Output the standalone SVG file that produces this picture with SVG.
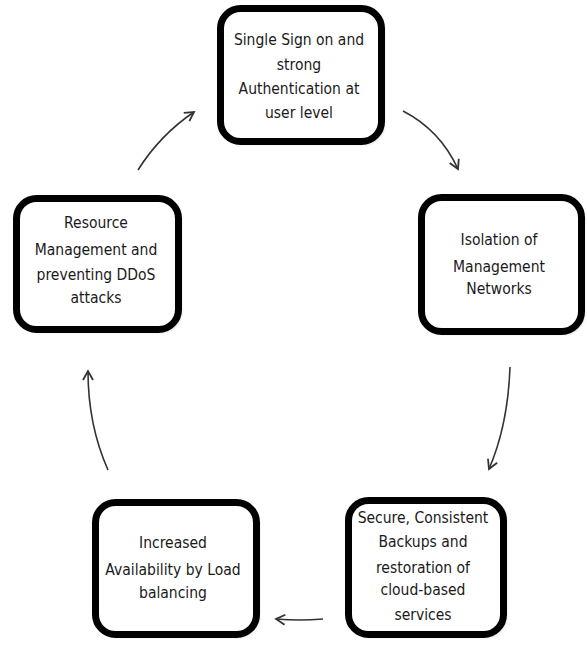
<svg xmlns="http://www.w3.org/2000/svg" width="587" height="645" viewBox="0 0 587 645">
<style>
.box{fill:#fff;stroke:#000;stroke-width:7}
.sh{fill:#999;opacity:0.6}
.t{font-family:"DejaVu Sans Condensed","Liberation Sans",Arial,sans-serif;font-stretch:condensed;font-size:15.5px;fill:#1a1a1a;text-anchor:middle}
.c{fill:none;stroke:#333;stroke-width:1.6;marker-end:url(#ah)}
</style>
<defs>
<filter id="blur" x="-10%" y="-10%" width="120%" height="120%"><feGaussianBlur stdDeviation="1.5"/></filter>
<marker id="ah" markerWidth="14" markerHeight="14" refX="10" refY="6" orient="auto" markerUnits="userSpaceOnUse">
<path d="M1,1 L10,6 L1,11" fill="none" stroke="#333" stroke-width="1.8"/>
</marker>
</defs>
<g id="connectors">
<path class="c" d="M138,170 Q160,135 194,112"/>
<path class="c" d="M403,111 Q440,130 458,169"/>
<path class="c" d="M510,367 Q508,425 489,469"/>
<path class="c" d="M323,619 Q300,621 276,619"/>
<path class="c" d="M108,470 Q88,425 88,371"/>
</g>
<g id="n1">
<rect class="sh" x="223" y="11" width="161" height="133" rx="20" filter="url(#blur)"/>
<rect class="box" x="220.5" y="8.5" width="161" height="133" rx="20"/>
<text class="t" x="299" y="45">Single Sign on and</text>
<text class="t" x="299" y="70">strong</text>
<text class="t" x="299" y="94">Authentication  at</text>
<text class="t" x="299" y="118">user level</text>
</g>
<g id="n2">
<rect class="sh" x="424" y="200" width="160" height="134" rx="20" filter="url(#blur)"/>
<rect class="box" x="421.5" y="197.5" width="160" height="134" rx="20"/>
<text class="t" x="499" y="245">Isolation of</text>
<text class="t" x="499" y="272">Management</text>
<text class="t" x="499" y="294">Networks</text>
</g>
<g id="n3">
<rect class="sh" x="351" y="503" width="155" height="134" rx="20" filter="url(#blur)"/>
<rect class="box" x="348.5" y="500.5" width="155" height="134" rx="20"/>
<text class="t" x="423" y="523">Secure, Consistent</text>
<text class="t" x="423" y="547">Backups and</text>
<text class="t" x="423" y="573">restoration of</text>
<text class="t" x="423" y="595">cloud-based</text>
<text class="t" x="423" y="620">services</text>
</g>
<g id="n4">
<rect class="sh" x="98" y="505" width="161" height="132" rx="20" filter="url(#blur)"/>
<rect class="box" x="95.5" y="502.5" width="161" height="132" rx="20"/>
<text class="t" x="173" y="548">Increased</text>
<text class="t" x="173" y="575">Availability by Load</text>
<text class="t" x="173" y="598">balancing</text>
</g>
<g id="n5">
<rect class="sh" x="19" y="201" width="162" height="131" rx="20" filter="url(#blur)"/>
<rect class="box" x="16.5" y="198.5" width="162" height="131" rx="20"/>
<text class="t" x="96" y="228">Resource</text>
<text class="t" x="96" y="255">Management and</text>
<text class="t" x="96" y="280">preventing  DDoS</text>
<text class="t" x="96" y="303">attacks</text>
</g>
</svg>
